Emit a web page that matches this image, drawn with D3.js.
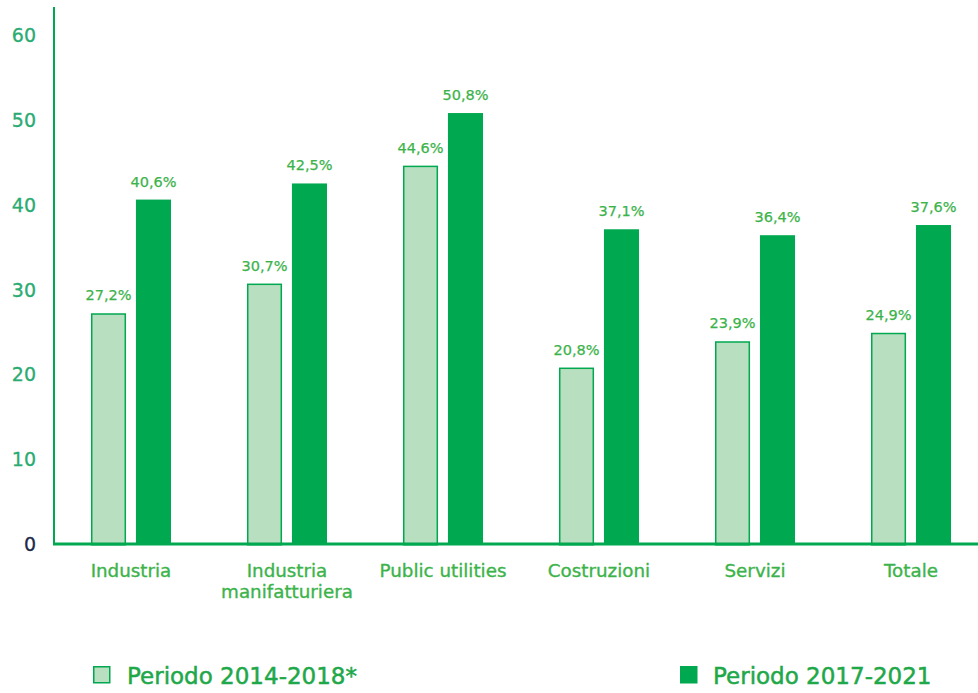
<!DOCTYPE html>
<html>
<head>
<meta charset="utf-8">
<script src="https://cdn.jsdelivr.net/npm/d3@7"></script>
<style>
  body { margin: 0; background: #fff; }
  text { font-family: "DejaVu Sans", sans-serif; }
</style>
</head>
<body>
<svg id="viz" width="978" height="693"></svg>
<script>
// data
const categories = [["Industria"], ["Industria", "manifatturiera"], ["Public utilities"], ["Costruzioni"], ["Servizi"], ["Totale"]]
const series = ["Periodo 2014-2018*", "Periodo 2017-2021"]
const period1 = [27.2, 30.7, 44.6, 20.8, 23.9, 24.9]
const period2 = [40.6, 42.5, 50.8, 37.1, 36.4, 37.6]
const yTicks = [0, 10, 20, 30, 40, 50, 60]

const GREEN = "#00a84f"
const LIGHT = "#b8dfc0"
const TEXT = "#3cb34a"

var svg = d3.select("svg#viz")
const width = +svg.attr('width')

const x0 = 54, yBase = 544

const y_scale = d3.scaleLinear().domain([0, 60]).range([yBase, 35])
const x_scale = d3.scaleBand().domain(d3.range(categories.length))
    .range([54, 988]).paddingInner(0.487).paddingOuter(0.237)
const sub = d3.scaleBand().domain([0, 1]).range([0, x_scale.bandwidth()]).paddingInner(0.22)

const rows = categories.map((c, i) => ({i: i, vals: [period1[i], period2[i]]}))

// y tick labels
svg.append("g").selectAll("text").data(yTicks).join("text")
    .attr("x", 36)
    .attr("y", d => y_scale(d) + 7)
    .attr("text-anchor", "end")
    .attr("font-size", 19)
    .attr("fill", d => d === 0 ? "#1d2a4a" : "#2aab72")
    .attr("stroke", d => d === 0 ? "#1d2a4a" : "#2aab72")
    .attr("stroke-width", 0.3)
    .text(d => d)

// bars
const groups = svg.append("g").selectAll("g").data(rows).join("g")
    .attr("transform", d => `translate(${x_scale(d.i)},0)`)

groups.selectAll("rect").data(d => d.vals.map((v, k) => ({v: v, k: k})))
    .join("rect")
    .attr("x", d => sub(d.k) + (d.k === 0 ? 0.75 : 0))
    .attr("width", d => sub.bandwidth() - (d.k === 0 ? 1.5 : 0))
    .attr("y", d => y_scale(d.v) + (d.k === 0 ? 0.75 : 0))
    .attr("height", d => yBase - y_scale(d.v))
    .attr("fill", d => d.k === 0 ? LIGHT : GREEN)
    .attr("stroke", d => d.k === 0 ? GREEN : "none")
    .attr("stroke-width", 1.5)

groups.selectAll("text.val").data(d => d.vals.map((v, k) => ({v: v, k: k})))
    .join("text")
    .attr("class", "val")
    .attr("x", d => sub(d.k) + sub.bandwidth() / 2)
    .attr("y", d => y_scale(d.v) - 13)
    .attr("text-anchor", "middle")
    .attr("font-size", 14.5)
    .attr("fill", TEXT)
    .attr("stroke", TEXT)
    .attr("stroke-width", 0.25)
    .text(d => d3.format(".1f")(d.v).replace(".", ",") + "%")

// axes lines
svg.append("line").attr("x1", x0).attr("x2", x0).attr("y1", 7).attr("y2", yBase)
    .attr("stroke", GREEN).attr("stroke-width", 2)
svg.append("line").attr("x1", x0 - 1).attr("x2", width).attr("y1", yBase).attr("y2", yBase)
    .attr("stroke", GREEN).attr("stroke-width", 3)

// category labels
const cat = svg.append("g").selectAll("text").data(rows).join("text")
    .attr("x", d => x_scale(d.i) + x_scale.bandwidth() / 2)
    .attr("y", 577)
    .attr("text-anchor", "middle")
    .attr("font-size", 18.3)
    .attr("fill", TEXT)
    .attr("stroke", TEXT)
    .attr("stroke-width", 0.35)
cat.selectAll("tspan").data(d => categories[d.i]).join("tspan")
    .attr("x", function() { return d3.select(this.parentNode).attr("x") })
    .attr("dy", (d, j) => j === 0 ? 0 : 21)
    .text(d => d)

// legend
const legX = [93, 680]
const leg = svg.append("g").selectAll("g").data(series).join("g")
    .attr("transform", (d, i) => `translate(${legX[i]},666)`)
leg.append("rect")
    .attr("x", (d, i) => i === 0 ? 0.75 : 0)
    .attr("y", (d, i) => i === 0 ? 0.75 : 0)
    .attr("width", (d, i) => i === 0 ? 16 : 17.5)
    .attr("height", (d, i) => i === 0 ? 16 : 17.5)
    .attr("fill", (d, i) => i === 0 ? LIGHT : GREEN)
    .attr("stroke", (d, i) => i === 0 ? GREEN : "none")
    .attr("stroke-width", 1.5)
leg.append("text")
    .attr("x", (d, i) => i === 0 ? 34 : 33).attr("y", 18)
    .attr("font-size", 23)
    .attr("fill", "#1fa84a")
    .attr("stroke", "#1fa84a")
    .attr("stroke-width", 0.5)
    .text(d => d)
</script>
</body>
</html>
